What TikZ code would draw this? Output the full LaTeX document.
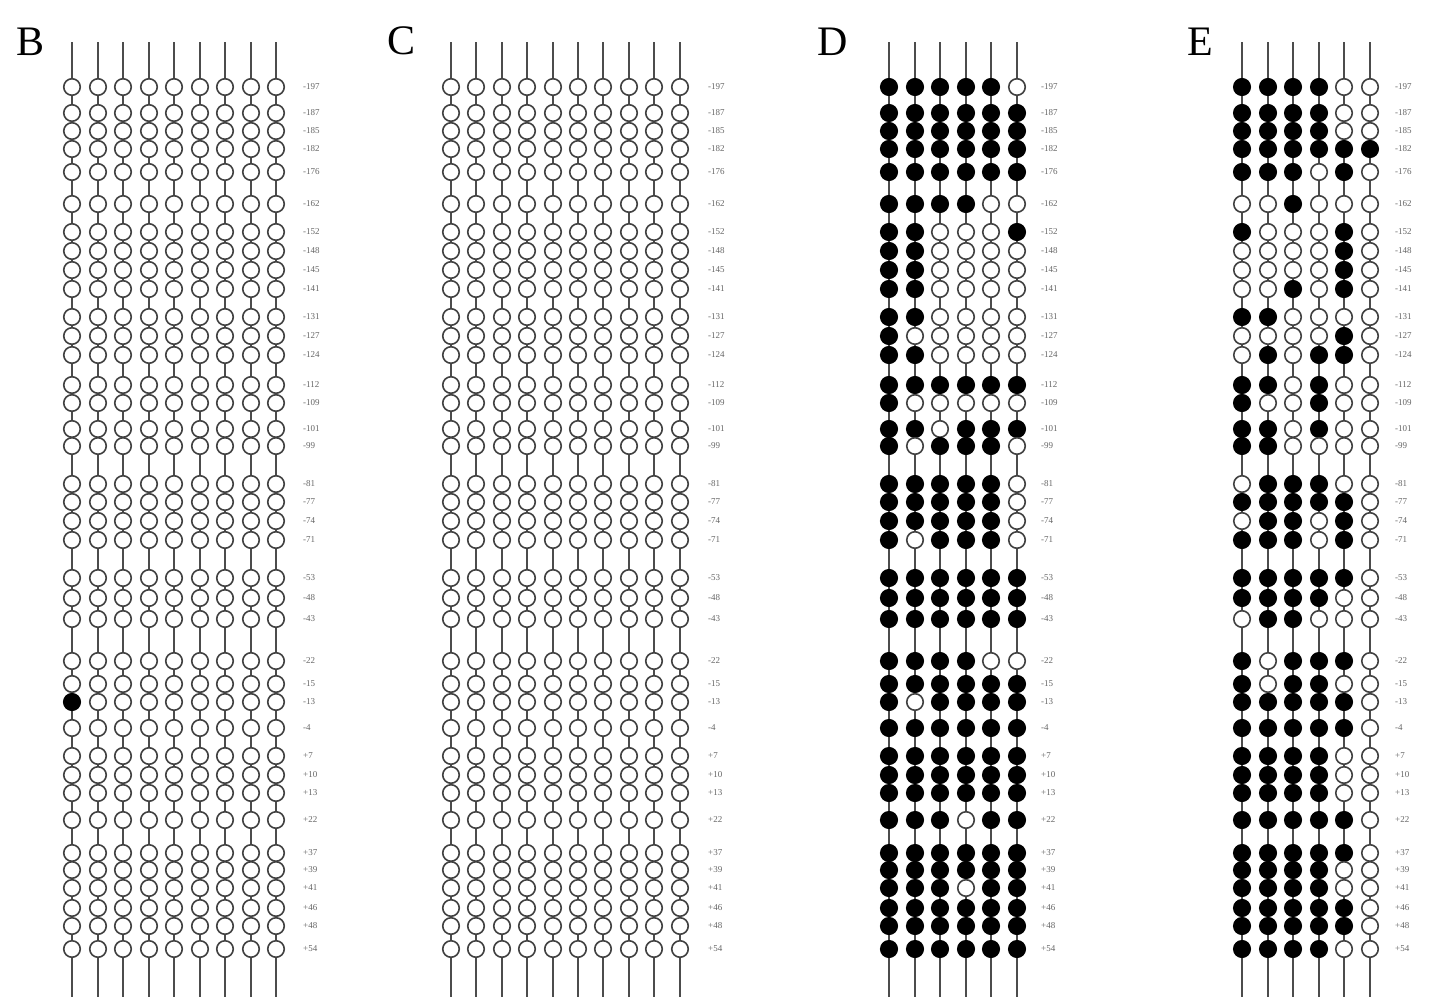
\documentclass[tikz,border=0pt]{standalone}
\usepackage{fontspec}
\setmainfont{Liberation Serif}
\begin{document}
\begin{tikzpicture}[x=1pt,y=-1pt,
  stem/.style={line width=2.2pt,draw=black!70},
  mopen/.style={circle,draw=black!75,line width=1.6pt,fill=white,minimum size=16.5pt,inner sep=0pt},
  mfill/.style={circle,draw=black,line width=1.6pt,fill=black,minimum size=16.5pt,inner sep=0pt},
  poslab/.style={anchor=west,font=\fontsize{9}{9}\selectfont,text=black!60,inner sep=0pt},
  panellab/.style={font=\fontsize{42}{42}\selectfont,inner sep=0pt}]
\useasboundingbox (0,0) rectangle (1437,1004);
\fill[white] (0,0) rectangle (1437,1004);
% panel letters
\node[panellab] (lB) at (31,42) {B};
\node[panellab] (lC) at (402,41) {C};
\node[panellab] (lD) at (833,42) {D};
\node[panellab] (lE) at (1200,42) {E};
% stems
\foreach \k in {1,...,9} {
  \pgfmathsetmacro\xx{round(72+25.5*(\k-1))}
  \coordinate (Bt\k) at (\xx,42);
  \coordinate (Bb\k) at (\xx,997);
  \draw[stem] (Bt\k) -- (Bb\k);
}
\foreach \k in {1,...,10} {
  \pgfmathsetmacro\xx{round(451+25.4*(\k-1))}
  \coordinate (Ct\k) at (\xx,42);
  \coordinate (Cb\k) at (\xx,997);
  \draw[stem] (Ct\k) -- (Cb\k);
}
\foreach \k in {1,...,6} {
  \pgfmathsetmacro\xx{round(889+25.5*(\k-1))}
  \coordinate (Dt\k) at (\xx,42);
  \coordinate (Db\k) at (\xx,997);
  \draw[stem] (Dt\k) -- (Db\k);
  \pgfmathsetmacro\xx{round(1242+25.6*(\k-1))}
  \coordinate (Et\k) at (\xx,42);
  \coordinate (Eb\k) at (\xx,997);
  \draw[stem] (Et\k) -- (Eb\k);
}
% rows: y / label / D pattern / E pattern
\foreach \yy/\lab/\da/\db/\dc/\dd/\de/\df/\ea/\eb/\ec/\ed/\ee/\ef [count=\r] in {
  87/-197/1/1/1/1/1/0/1/1/1/1/0/0,
  113/-187/1/1/1/1/1/1/1/1/1/1/0/0,
  131/-185/1/1/1/1/1/1/1/1/1/1/0/0,
  149/-182/1/1/1/1/1/1/1/1/1/1/1/1,
  172/-176/1/1/1/1/1/1/1/1/1/0/1/0,
  204/-162/1/1/1/1/0/0/0/0/1/0/0/0,
  232/-152/1/1/0/0/0/1/1/0/0/0/1/0,
  251/-148/1/1/0/0/0/0/0/0/0/0/1/0,
  270/-145/1/1/0/0/0/0/0/0/0/0/1/0,
  289/-141/1/1/0/0/0/0/0/0/1/0/1/0,
  317/-131/1/1/0/0/0/0/1/1/0/0/0/0,
  336/-127/1/0/0/0/0/0/0/0/0/0/1/0,
  355/-124/1/1/0/0/0/0/0/1/0/1/1/0,
  385/-112/1/1/1/1/1/1/1/1/0/1/0/0,
  403/-109/1/0/0/0/0/0/1/0/0/1/0/0,
  429/-101/1/1/0/1/1/1/1/1/0/1/0/0,
  446/-99/1/0/1/1/1/0/1/1/0/0/0/0,
  484/-81/1/1/1/1/1/0/0/1/1/1/0/0,
  502/-77/1/1/1/1/1/0/1/1/1/1/1/0,
  521/-74/1/1/1/1/1/0/0/1/1/0/1/0,
  540/-71/1/0/1/1/1/0/1/1/1/0/1/0,
  578/-53/1/1/1/1/1/1/1/1/1/1/1/0,
  598/-48/1/1/1/1/1/1/1/1/1/1/0/0,
  619/-43/1/1/1/1/1/1/0/1/1/0/0/0,
  661/-22/1/1/1/1/0/0/1/0/1/1/1/0,
  684/-15/1/1/1/1/1/1/1/0/1/1/0/0,
  702/-13/1/0/1/1/1/1/1/1/1/1/1/0,
  728/-4/1/1/1/1/1/1/1/1/1/1/1/0,
  756/+7/1/1/1/1/1/1/1/1/1/1/0/0,
  775/+10/1/1/1/1/1/1/1/1/1/1/0/0,
  793/+13/1/1/1/1/1/1/1/1/1/1/0/0,
  820/+22/1/1/1/0/1/1/1/1/1/1/1/0,
  853/+37/1/1/1/1/1/1/1/1/1/1/1/0,
  870/+39/1/1/1/1/1/1/1/1/1/1/0/0,
  888/+41/1/1/1/0/1/1/1/1/1/1/0/0,
  908/+46/1/1/1/1/1/1/1/1/1/1/1/0,
  926/+48/1/1/1/1/1/1/1/1/1/1/1/0,
  949/+54/1/1/1/1/1/1/1/1/1/1/0/0} {
  % panel B
  \foreach \k in {1,...,9} {
    \ifnum\r=27 \ifnum\k=1 \def\st{mfill}\else\def\st{mopen}\fi\else\def\st{mopen}\fi
    \pgfmathsetmacro\xx{round(72+25.5*(\k-1))}
    \node[\st] (B-\r-\k) at (\xx,\yy) {};
  }
  \node[poslab] (Blab\r) at (303,\yy) {\lab};
  % panel C
  \foreach \k in {1,...,10} {
    \pgfmathsetmacro\xx{round(451+25.4*(\k-1))}
    \node[mopen] (C-\r-\k) at (\xx,\yy) {};
  }
  \node[poslab] (Clab\r) at (708,\yy) {\lab};
  % panel D
  \foreach \v [count=\k] in {\da,\db,\dc,\dd,\de,\df} {
    \ifnum\v=1 \def\st{mfill}\else\def\st{mopen}\fi
    \pgfmathsetmacro\xx{round(889+25.5*(\k-1))}
    \node[\st] (D-\r-\k) at (\xx,\yy) {};
  }
  \node[poslab] (Dlab\r) at (1041,\yy) {\lab};
  % panel E
  \foreach \v [count=\k] in {\ea,\eb,\ec,\ed,\ee,\ef} {
    \ifnum\v=1 \def\st{mfill}\else\def\st{mopen}\fi
    \pgfmathsetmacro\xx{round(1242+25.6*(\k-1))}
    \node[\st] (E-\r-\k) at (\xx,\yy) {};
  }
  \node[poslab] (Elab\r) at (1395,\yy) {\lab};
}
\end{tikzpicture}
\end{document}
